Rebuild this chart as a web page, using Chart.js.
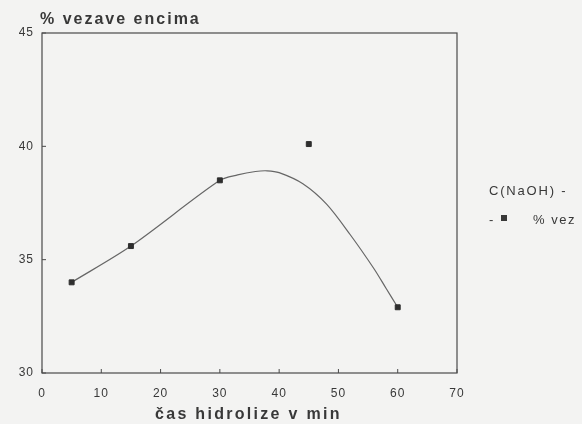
<!DOCTYPE html>
<html>
<head>
<meta charset="utf-8">
<script src="https://cdn.jsdelivr.net/npm/chart.js@4"></script>
<style>
  html, body { margin: 0; padding: 0; background: #f3f3f2; }
  #wrap { width: 582px; height: 424px; }
</style>
</head>
<body>
<div id="wrap"><canvas id="chart"></canvas></div>
<script>
// measured points: hydrolysis time (min) vs % bound enzyme
const timeMin = [5, 15, 30, 45, 60];
const boundPct = [34.0, 35.6, 38.5, 40.1, 32.9];

// hand-drawn fit curve through the measurements
const fitX = [5, 15, 30, 33, 36, 38, 40, 44, 48, 52, 56, 58, 60];
const fitY = [34.0, 35.6, 38.5, 38.74, 38.89, 38.92, 38.84, 38.35, 37.45, 36.1, 34.6, 33.75, 32.9];

const xTicks = [0, 10, 20, 30, 40, 50, 60, 70];
const yTicks = [30, 35, 40, 45];

const ink = '#383838';
const font = "'Liberation Sans', 'DejaVu Sans', sans-serif";

// the plotter lettering is wide, so space out every label
const spacingPlugin = {
  id: 'spacing',
  beforeDraw(chart) {
    chart.ctx.letterSpacing = '1px';
  }
};

// frame, inward tick marks, titles and side legend
const framePlugin = {
  id: 'frame',
  afterDraw(chart) {
    const { ctx, chartArea: a, scales } = chart;
    ctx.save();
    ctx.strokeStyle = '#4a4a4a';
    ctx.lineWidth = 1.2;
    ctx.strokeRect(a.left, a.top, a.right - a.left, a.bottom - a.top);

    ctx.lineWidth = 1;
    xTicks.forEach(v => {
      const px = scales.x.getPixelForValue(v);
      ctx.beginPath();
      ctx.moveTo(px, a.bottom);
      ctx.lineTo(px, a.bottom - 4);
      ctx.stroke();
    });
    yTicks.forEach(v => {
      const py = scales.y.getPixelForValue(v);
      ctx.beginPath();
      ctx.moveTo(a.left, py);
      ctx.lineTo(a.left + 4, py);
      ctx.stroke();
    });

    ctx.fillStyle = ink;
    ctx.textBaseline = 'alphabetic';
    ctx.textAlign = 'left';

    ctx.font = 'bold 16px ' + font;
    ctx.letterSpacing = '2px';
    ctx.fillText('% vezave encima', 40, 24);
    ctx.letterSpacing = '2.3px';
    ctx.fillText('čas hidrolize v min', 155, 419);

    ctx.font = '13px ' + font;
    ctx.letterSpacing = '1.8px';
    ctx.fillText('C(NaOH) -', 489, 195);
    ctx.letterSpacing = '1.5px';
    ctx.fillText('-', 489, 224);
    ctx.fillText('% vez', 533, 224);
    ctx.fillRect(501, 215, 6, 6);
    ctx.restore();
  }
};

new Chart(document.getElementById('chart'), {
  type: 'scatter',
  data: {
    datasets: [
      {
        label: 'fit',
        data: fitX.map((x, i) => ({ x, y: fitY[i] })),
        showLine: true,
        borderColor: '#666',
        borderWidth: 1.2,
        pointRadius: 0,
        tension: 0.3,
        order: 2
      },
      {
        label: '% vez',
        data: timeMin.map((x, i) => ({ x, y: boundPct[i] })),
        pointStyle: 'rect',
        pointRadius: 3.5,
        backgroundColor: '#2e2e2e',
        borderColor: '#2e2e2e',
        order: 1
      }
    ]
  },
  options: {
    responsive: true,
    maintainAspectRatio: false,
    animation: false,
    layout: { padding: { top: 33, right: 125, left: 0, bottom: 0 } },
    plugins: {
      legend: { display: false },
      tooltip: { enabled: false }
    },
    scales: {
      x: {
        type: 'linear',
        min: 0,
        max: 70,
        afterFit: s => { s.height = 51; },
        afterBuildTicks: s => { s.ticks = xTicks.map(v => ({ value: v })); },
        grid: { display: false },
        border: { display: false },
        ticks: { color: ink, font: { family: font, size: 12 }, padding: 5 }
      },
      y: {
        min: 30,
        max: 45,
        afterFit: s => { s.width = 42; },
        afterBuildTicks: s => { s.ticks = yTicks.map(v => ({ value: v })); },
        grid: { display: false },
        border: { display: false },
        ticks: { color: ink, font: { family: font, size: 12 }, padding: 0 }
      }
    }
  },
  plugins: [spacingPlugin, framePlugin]
});
</script>
</body>
</html>
